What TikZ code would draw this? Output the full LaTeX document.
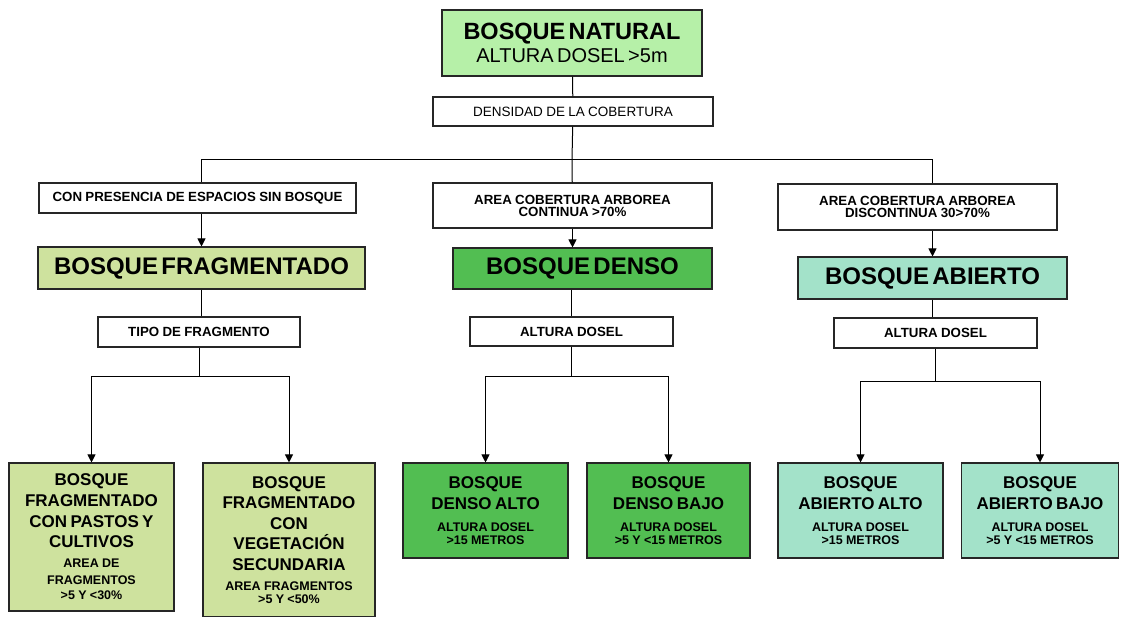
\documentclass[tikz,border=0pt]{standalone}
\usepackage{fontspec}
\setmainfont{Liberation Sans}
\usetikzlibrary{arrows.meta}
\definecolor{natgreen}{RGB}{182,240,168}
\definecolor{fraggreen}{RGB}{206,226,158}
\definecolor{densgreen}{RGB}{82,190,82}
\definecolor{abiegreen}{RGB}{163,226,201}
\newcommand\fsNat{\fontsize{23.5}{26}\selectfont\bfseries}
\newcommand\fsNatSub{\fontsize{20}{22}\selectfont}
\newcommand\fsDens{\fontsize{13.5}{15}\selectfont}
\newcommand\fsLab{\fontsize{13.3}{15}\selectfont\bfseries}
\newcommand\fsHead{\fontsize{24}{26}\selectfont\bfseries}
\newcommand\fsLeaf{\fontsize{17}{20.6}\selectfont\bfseries}
\newcommand\fsLeafSub{\fontsize{12.5}{14}\selectfont\bfseries}
\tikzset{
  box/.style={draw=black!85, line width=1.1pt, inner sep=0pt, align=center},
  conn/.style={line width=1pt, black},
  arr/.style={conn, -{Triangle[length=8pt,width=8pt]}}
}
\begin{document}
\begin{tikzpicture}[x=1pt, y=-1pt]
			\useasboundingbox (0,0) rectangle (1121,616);
			
			\node[box, fill=natgreen, text width=260, minimum height=66] (nat) at (572,43)
				{{\fsNat BOSQUE NATURAL}\\[3pt]{\fsNatSub ALTURA DOSEL >5m}};
			\node[box, text width=280, minimum height=29] (dens) at (573,111.5) {\fsDens DENSIDAD DE LA COBERTURA};
			\coordinate (hub) at (572,159.5);
			
			\node[box, text width=317, minimum height=30] (pres) at (197.5,198) {\fsLab CON PRESENCIA DE ESPACIOS SIN BOSQUE};
			\node[box, text width=279, minimum height=45] (cont) at (572.5,205.5) {\fsLab AREA COBERTURA ARBOREA\\ \fsLab CONTINUA >70\%};
			\node[box, text width=279, minimum height=46] (disc) at (917.5,207) {\fsLab AREA COBERTURA ARBOREA\\ \fsLab DISCONTINUA 30>70\%};
			
			\node[box, fill=fraggreen, text width=327, minimum height=42] (frag) at (201.5,268) {\fsHead BOSQUE FRAGMENTADO};
			\node[box, fill=densgreen, text width=259, minimum height=41] (denso) at (582.5,268.5) {\fsHead BOSQUE DENSO};
			\node[box, fill=abiegreen, text width=269, minimum height=42] (abierto) at (932.5,278) {\fsHead BOSQUE ABIERTO};
			
			\node[box, text width=202, minimum height=30] (tipo) at (199,332) {\fsLab TIPO DE FRAGMENTO};
			\node[box, text width=203, minimum height=29] (altd) at (571.5,331.5) {\fsLab ALTURA DOSEL};
			\node[box, text width=203, minimum height=30] (alta) at (935.5,333) {\fsLab ALTURA DOSEL};
			\coordinate (jA) at (199,376.5);
			\coordinate (jB) at (571.5,376.5);
			\coordinate (jC) at (935.5,381.5);
			
			\node[box, fill=fraggreen, text width=165, minimum height=148] (fpas) at (91.5,537)
				{\fsLeaf BOSQUE\\ \fsLeaf FRAGMENTADO\\ \fsLeaf CON PASTOS Y\\ \fsLeaf CULTIVOS\\[6pt]
				 \fsLeafSub AREA DE\\[3pt] \fsLeafSub FRAGMENTOS\\[3pt] \fsLeafSub >5 Y <30\%};
			\node[box, fill=fraggreen, text width=172, minimum height=154] (fveg) at (289,540)
				{\fsLeaf BOSQUE\\ \fsLeaf FRAGMENTADO\\ \fsLeaf CON\\ \fsLeaf VEGETACIÓN\\ \fsLeaf SECUNDARIA\\[6pt]
				 \fsLeafSub AREA FRAGMENTOS\\[1pt] \fsLeafSub >5 Y <50\%};
			\node[box, fill=densgreen, text width=165, minimum height=95] (dalt) at (485.5,510.5)
				{\fsLeaf BOSQUE\\ \fsLeaf DENSO ALTO\\[8pt] \fsLeafSub ALTURA DOSEL\\[1pt] \fsLeafSub >15 METROS};
			\node[box, fill=densgreen, text width=163, minimum height=95] (dbaj) at (668.5,510.5)
				{\fsLeaf BOSQUE\\ \fsLeaf DENSO BAJO\\[8pt] \fsLeafSub ALTURA DOSEL\\[1pt] \fsLeafSub >5 Y <15 METROS};
			\node[box, fill=abiegreen, text width=165, minimum height=95] (aalt) at (860.5,510.5)
				{\fsLeaf BOSQUE\\ \fsLeaf ABIERTO ALTO\\[8pt] \fsLeafSub ALTURA DOSEL\\[1pt] \fsLeafSub >15 METROS};
			\node[box, fill=abiegreen, text width=157, minimum height=95] (abaj) at (1040,510.5)
				{\fsLeaf BOSQUE\\ \fsLeaf ABIERTO BAJO\\[8pt] \fsLeafSub ALTURA DOSEL\\[1pt] \fsLeafSub >5 Y <15 METROS};
			
			\draw[conn] (nat) -- (dens);
			\draw[conn] (dens) -- (hub) -- (cont);
			\draw[conn] (pres.north -| frag.north) |- (hub);
			\draw[conn] (hub) -| (disc.north -| abierto.north);
			
			\draw[arr] (pres.south -| frag.north) -- (frag.north);
			\draw[arr] (cont.south) -- (cont.south |- denso.north);
			\draw[arr] (disc.south -| abierto.north) -- (abierto.north);
			
			\draw[conn] (frag.south) -- (frag.south |- tipo.north);
			\draw[conn] (denso.south -| altd.north) -- (altd.north);
			\draw[conn] (abierto.south) -- (abierto.south |- alta.north);
			
			\draw[conn] (tipo) -- (jA);
			\draw[arr] (jA) -| (fpas.north);
			\draw[arr] (jA) -| (fveg.north);
			\draw[conn] (altd) -- (jB);
			\draw[arr] (jB) -| (dalt.north);
			\draw[arr] (jB) -| (dbaj.north);
			\draw[conn] (alta) -- (jC);
			\draw[arr] (jC) -| (aalt.north);
			\draw[arr] (jC) -| (abaj.north);
		\end{tikzpicture}
\end{document}
